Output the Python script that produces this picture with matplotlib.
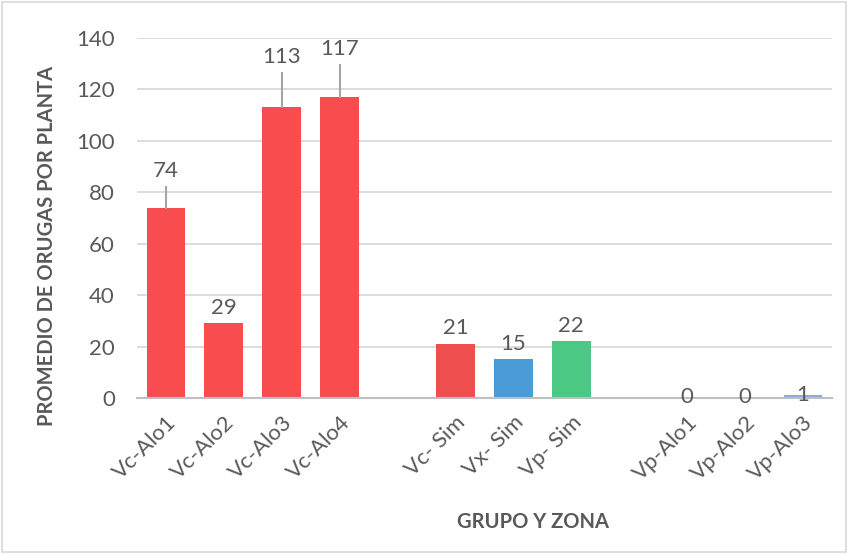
import matplotlib.pyplot as plt
import numpy as np

plt.rcParams['font.family'] = ['Lato', 'DejaVu Sans']

# categories in order; '' = empty slot between groups
labels = ['Vc-Alo1', 'Vc-Alo2', 'Vc-Alo3', 'Vc-Alo4', '',
          'Vc- Sim', 'Vx- Sim', 'Vp- Sim', '',
          'Vp-Alo1', 'Vp-Alo2', 'Vp-Alo3']
values = [74, 29, 113, 117, None, 21, 15, 22, None, 0, 0, 1]
err_up = [8, 0, 13.5, 12.5, None, 0, 0, 0, None, 0, 0, 0]
colors = ['#F84C4E', '#F84C4E', '#F84C4E', '#F84C4E', 'white',
          '#EF4E4E', '#4A9BD6', '#4BC884', 'white',
          '#8EA9DB', '#8EA9DB', '#8EA9DB']

txt = '#595959'
fs = 16

fig = plt.figure(figsize=(8.48, 5.54), dpi=100)
ax = fig.add_axes([0.1616, 0.2816, 0.8194, 0.6498])

x = np.arange(len(labels))
vals = [v if v is not None else 0 for v in values]
errs = [e if e is not None else 0 for e in err_up]
ax.bar(x, vals, width=0.67, color=colors, zorder=2)

# upper error bars only where present
for xi, v, e in zip(x, vals, errs):
    if e > 0:
        ax.plot([xi, xi], [v, v + e], color='#A5A5A5', lw=1.5, zorder=3)

# data labels
for xi, v, e, lab in zip(x, values, errs, labels):
    if v is None:
        continue
    if lab.startswith('Vp-Alo'):
        ax.text(xi, v + 0.3, str(v), ha='center', va='center', fontsize=fs, color=txt)
    else:
        ax.text(xi, v + e + 2.3, str(v), ha='center', va='bottom', fontsize=fs, color=txt)

ax.set_ylim(0, 140)
ax.set_xlim(-0.5, len(labels) - 0.5)
ax.set_yticks(range(0, 141, 20))
ax.yaxis.grid(True, color='#D9D9D9', lw=1.3, zorder=0)
ax.set_axisbelow(True)
for s in ['top', 'right', 'left']:
    ax.spines[s].set_visible(False)
ax.spines['bottom'].set_color('#BFBFBF')
ax.spines['bottom'].set_linewidth(1.5)

ax.set_xticks(x)
ax.set_xticklabels(labels, rotation=45, ha='right', rotation_mode='anchor',
                   fontsize=fs, color=txt)
ax.tick_params(axis='x', length=0, pad=10)
ax.tick_params(axis='y', length=0, labelsize=fs, labelcolor=txt, pad=16)

fig.text(0.629, 0.057, 'GRUPO Y ZONA', ha='center', va='center',
         fontsize=14.5, fontweight='bold', color=txt)
fig.text(0.055, 0.556, 'PROMEDIO DE ORUGAS POR PLANTA', ha='center', va='center',
         rotation=90, fontsize=14.5, fontweight='bold', color=txt)

# chart border
fig.patches.append(plt.Rectangle((0.002, 0.003), 0.996, 0.994, transform=fig.transFigure,
                                 fill=False, edgecolor='#D9D9D9', lw=1.2))

fig.savefig('out.png', dpi=100)
